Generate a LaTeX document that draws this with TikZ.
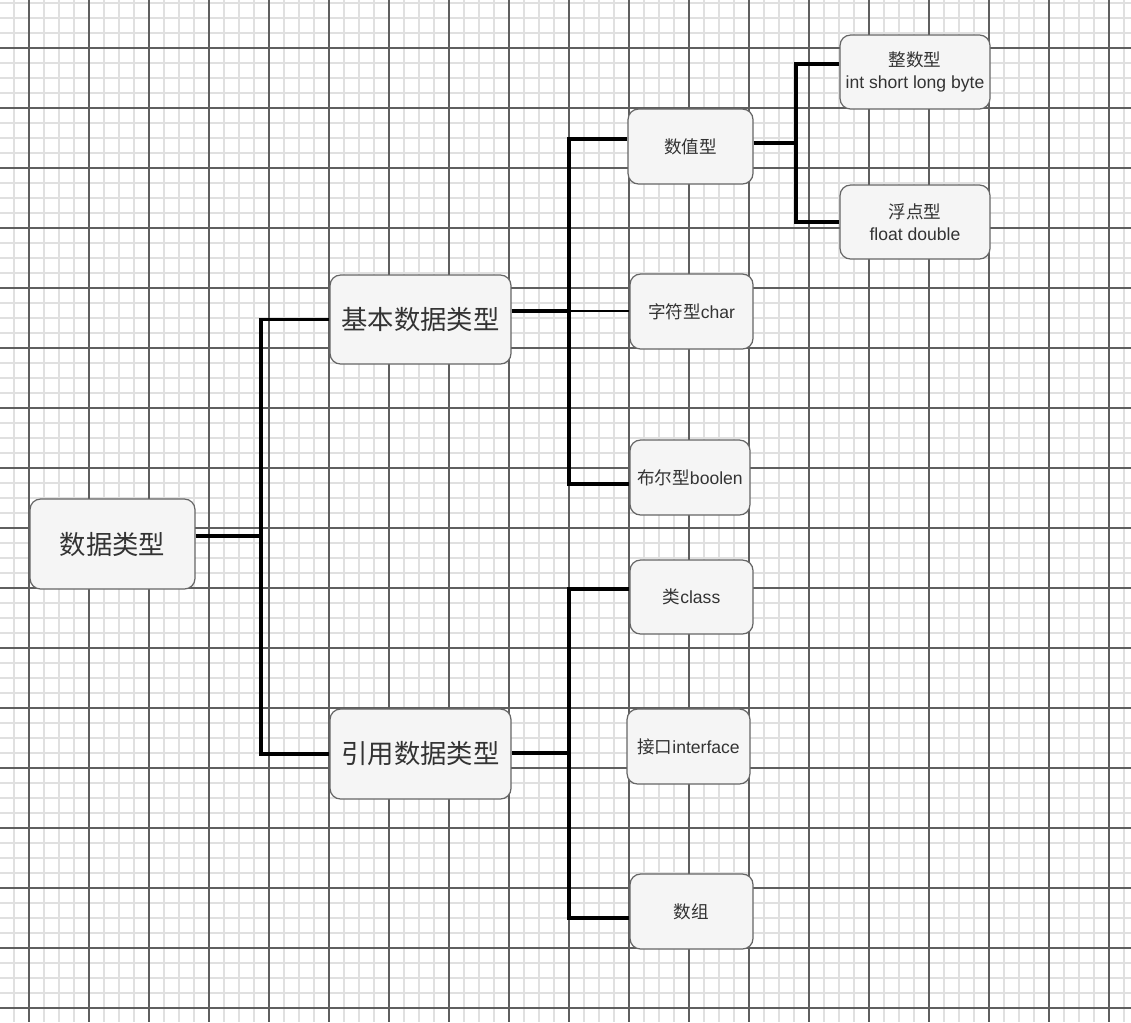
\documentclass[tikz,border=0pt]{standalone}
\usepackage{fontspec}
\setmainfont{Liberation Sans}
\newfontfamily\cjk{Noto Sans CJK SC}
\usepackage{tikz}
\usetikzlibrary{positioning,calc}
\definecolor{boxfill}{HTML}{F5F5F5}
\definecolor{boxline}{HTML}{666666}
\definecolor{txt}{HTML}{333333}
\definecolor{gridlight}{HTML}{E0E0E0}
\definecolor{griddark}{HTML}{5F5F5F}

\begin{document}
\begin{tikzpicture}[
    x=0.02cm, y=-0.02cm,
    box/.style={draw=boxline, fill=boxfill, rounded corners=6pt, line width=0.7pt, inner sep=0pt, align=center, text=txt, font=\fontsize{10}{12.5}\selectfont, minimum width=2.46cm, minimum height=1.5cm},
    bigbox/.style={box, font=\cjk\fontsize{15}{17}\selectfont},
    conn/.style={line width=2pt, black},
    thinconn/.style={line width=0.6pt, black},
    minorgrid/.style={gridlight, line width=1.1pt},
    majorgrid/.style={griddark, line width=0.6pt}
]
\fill[white] (0,0) rectangle (1131,1022);
\useasboundingbox (0,0) rectangle (1131,1022);
% grid paper
\foreach \gx in {14,29,...,1131} \draw[minorgrid] (\gx,0) -- (\gx,1022);
\foreach \gy in {3,18,...,1022} \draw[minorgrid] (0,\gy) -- (1131,\gy);
\foreach \gx in {29,89,...,1131} \draw[majorgrid] (\gx,0) -- (\gx,1022);
\foreach \gy in {48,108,...,1022} \draw[majorgrid] (0,\gy) -- (1131,\gy);

\node[bigbox, minimum width=3.3cm, minimum height=1.8cm] (root) at (112.5,544) {数据类型};
\node[bigbox, minimum width=3.62cm, minimum height=1.78cm] (basic) at (420.5,319.5) {基本数据类型};
\node[bigbox, minimum width=3.62cm, minimum height=1.8cm] (ref) at (420.5,754) {引用数据类型};
\node[box, minimum width=2.5cm] (num) at (690.5,146.5) {\cjk 数值型};
\node[box] (char) at (691.5,311.5) {{\cjk 字符型}char};
\node[box, minimum width=2.4cm] (bool) at (690,477.5) {{\cjk 布尔型}boolen};
\node[box, minimum width=3cm, minimum height=1.48cm] (ints) at (915,72) {{\cjk 整数型}\\int short long byte};
\node[box, minimum width=3cm, minimum height=1.48cm] (floats) at (915,222) {{\cjk 浮点型}\\float double};
\node[box, minimum height=1.48cm] (cls) at (691.5,597) {{\cjk 类}class};
\node[box] (iface) at (688.5,746.5) {{\cjk 接口}interface};
\node[box] (arr) at (691.5,911.5) {\cjk 数组};

\coordinate (jroot) at (261,536);
\coordinate (jbasic) at (569,311);
\coordinate (btop) at (569,139);
\coordinate (bbot) at (569,484);
\coordinate (jnum) at (796,143);
\coordinate (ntop) at (796,64);
\coordinate (jref) at (569,753);
\coordinate (rtop) at (569,589);
\coordinate (rbot) at (569,918);

\draw[conn] (root.east |- jroot) -- (jroot);
\draw[conn] (basic.west) -| (jroot) |- (ref.west);
\draw[conn] (basic.east |- jbasic) -- (jbasic);
\draw[conn] (num.west |- btop) -- (btop) -- (bbot) -- (bool.west |- bbot);
\draw[thinconn] (jbasic) -- (char.west |- jbasic);
\draw[conn] (num.east |- jnum) -- (jnum);
\draw[conn] (ints.west |- ntop) -- (ntop) |- (floats.west);
\draw[conn] (ref.east |- jref) -- (jref);
\draw[conn] (cls.west |- rtop) -- (rtop) -- (rbot) -- (arr.west |- rbot);
\end{tikzpicture}
\end{document}
